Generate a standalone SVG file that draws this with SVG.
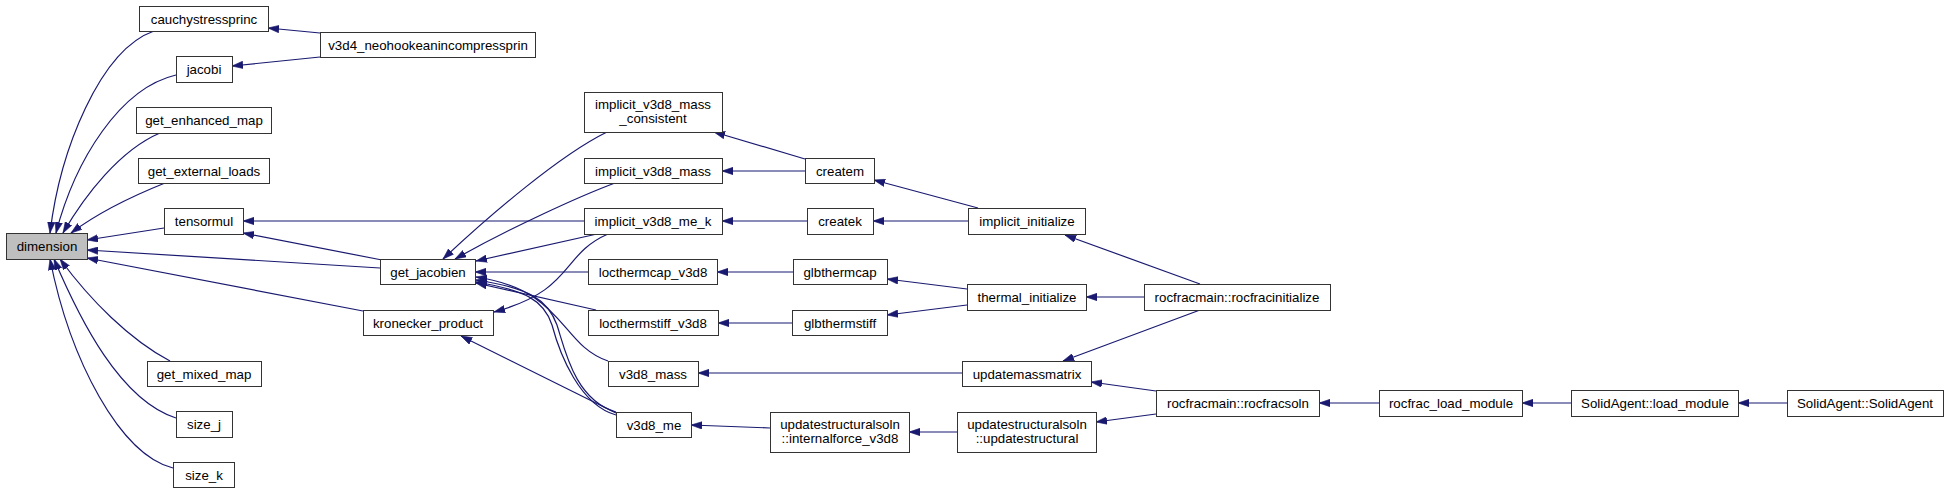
<svg xmlns="http://www.w3.org/2000/svg" width="1949" height="493" viewBox="0 0 1949 493">
<style>
.n rect{fill:#fff;stroke:#333;stroke-width:1}
.n.root rect{fill:#bfbfbf}
.n text{font-family:"Liberation Sans",Arial,Helvetica,sans-serif;font-size:13.3px;fill:#000;text-anchor:middle}
#edges path{fill:none;stroke:#191970;stroke-width:1.2;marker-end:url(#ah)}
</style>
<defs>
<marker id="ah" markerUnits="userSpaceOnUse" markerWidth="12" markerHeight="8" refX="11" refY="4" orient="auto" viewBox="0 0 12 8">
<path d="M0,0.3 L11,4 L0,7.7 z" fill="#191970" stroke="#191970" stroke-width="0.6"/>
</marker>
</defs>
<rect width="1949" height="493" fill="#fff"/>
<g id="edges">
<path d="M154,31 C100,50 60,150 50,233"/>
<path d="M176,75 C120,88 75,160 56,233"/>
<path d="M160,133 C120,150 85,195 63,233"/>
<path d="M165,183 C130,197 95,215 71,233"/>
<path d="M164,228 L87,240"/>
<path d="M380,268 L87,250"/>
<path d="M363,311 L87,258"/>
<path d="M170,361 C130,340 90,300 60,259"/>
<path d="M176,418 C120,400 80,320 54,259"/>
<path d="M173,468 C120,455 70,360 50,259"/>
<path d="M320,33 L268,28"/>
<path d="M320,57 L232,66"/>
<path d="M382,260 L243,233"/>
<path d="M584,221 L243,221"/>
<path d="M607,132 C560,155 490,215 443,259"/>
<path d="M615,183 C580,196 510,228 455,259"/>
<path d="M597,234 L476,261"/>
<path d="M588,272 L475,272"/>
<path d="M596,310 L476,283"/>
<path d="M608,361 C560,345 565,290 476,277"/>
<path d="M616,412 C575,400 565,350 557,325 C548,300 530,288 476,280"/>
<path d="M616,415 C580,405 560,355 552,325 C544,300 525,290 476,282"/>
<path d="M608,234 C560,255 575,290 494,312"/>
<path d="M616,413 L461,336"/>
<path d="M805,171 L722,171"/>
<path d="M805,159 L714,132"/>
<path d="M978,208 L874,180"/>
<path d="M968,221 L873,221"/>
<path d="M807,221 L722,221"/>
<path d="M793,272 L717,272"/>
<path d="M792,323 L718,323"/>
<path d="M967,289 L887,279"/>
<path d="M967,305 L887,315"/>
<path d="M1200,284 L1065,235"/>
<path d="M1144,297 L1086,297"/>
<path d="M1200,310 L1063,361"/>
<path d="M962,373 L698,373"/>
<path d="M1156,391 L1091,382"/>
<path d="M1156,414 L1096,422"/>
<path d="M957,432 L909,432"/>
<path d="M770,428 L691,425"/>
<path d="M1379,403 L1319,403"/>
<path d="M1571,403 L1522,403"/>
<path d="M1787,403 L1738,403"/>
</g>
<g id="dimension" class="n root"><rect x="6.5" y="233.5" width="81" height="26"/><text x="47" y="251">dimension</text></g>
<g id="cauchystressprinc" class="n"><rect x="139.5" y="6.5" width="129" height="25"/><text x="204" y="23.5">cauchystressprinc</text></g>
<g id="jacobi" class="n"><rect x="176.5" y="56.5" width="56" height="26"/><text x="204" y="74">jacobi</text></g>
<g id="get_enhanced_map" class="n"><rect x="136.5" y="107.5" width="135" height="26"/><text x="204" y="125">get_enhanced_map</text></g>
<g id="get_external_loads" class="n"><rect x="138.5" y="158.5" width="131" height="25"/><text x="204" y="175.5">get_external_loads</text></g>
<g id="tensormul" class="n"><rect x="164.5" y="208.5" width="79" height="26"/><text x="204" y="226">tensormul</text></g>
<g id="get_mixed_map" class="n"><rect x="147.5" y="361.5" width="114" height="25"/><text x="204" y="378.5">get_mixed_map</text></g>
<g id="size_j" class="n"><rect x="176.5" y="411.5" width="56" height="26"/><text x="204" y="429">size_j</text></g>
<g id="size_k" class="n"><rect x="173.5" y="462.5" width="61" height="25"/><text x="204" y="479.5">size_k</text></g>
<g id="v3d4_neohookeanincompressprin" class="n"><rect x="320.5" y="32.5" width="215" height="25"/><text x="428" y="49.5">v3d4_neohookeanincompressprin</text></g>
<g id="get_jacobien" class="n"><rect x="380.5" y="259.5" width="95" height="25"/><text x="428" y="276.5">get_jacobien</text></g>
<g id="kronecker_product" class="n"><rect x="363.5" y="310.5" width="130" height="25"/><text x="428" y="327.5">kronecker_product</text></g>
<g id="implicit_v3d8_mass_consistent" class="n"><rect x="584.5" y="92.5" width="138" height="40"/><text x="653" y="108.5">implicit_v3d8_mass</text><text x="653" y="122.5">_consistent</text></g>
<g id="implicit_v3d8_mass" class="n"><rect x="584.5" y="158.5" width="138" height="25"/><text x="653" y="175.5">implicit_v3d8_mass</text></g>
<g id="implicit_v3d8_me_k" class="n"><rect x="584.5" y="208.5" width="138" height="26"/><text x="653" y="226">implicit_v3d8_me_k</text></g>
<g id="locthermcap_v3d8" class="n"><rect x="588.5" y="259.5" width="129" height="25"/><text x="653" y="276.5">locthermcap_v3d8</text></g>
<g id="locthermstiff_v3d8" class="n"><rect x="588.5" y="310.5" width="130" height="25"/><text x="653" y="327.5">locthermstiff_v3d8</text></g>
<g id="v3d8_mass" class="n"><rect x="608.5" y="361.5" width="90" height="25"/><text x="653" y="378.5">v3d8_mass</text></g>
<g id="v3d8_me" class="n"><rect x="616.5" y="412.5" width="75" height="25"/><text x="654" y="429.5">v3d8_me</text></g>
<g id="createm" class="n"><rect x="805.5" y="158.5" width="69" height="25"/><text x="840" y="175.5">createm</text></g>
<g id="createk" class="n"><rect x="807.5" y="208.5" width="66" height="26"/><text x="840" y="226">createk</text></g>
<g id="glbthermcap" class="n"><rect x="793.5" y="259.5" width="94" height="25"/><text x="840" y="276.5">glbthermcap</text></g>
<g id="glbthermstiff" class="n"><rect x="792.5" y="310.5" width="95" height="25"/><text x="840" y="327.5">glbthermstiff</text></g>
<g id="internalforce_v3d8" class="n"><rect x="770.5" y="412.5" width="139" height="40"/><text x="840" y="428.5">updatestructuralsoln</text><text x="840" y="442.5">::internalforce_v3d8</text></g>
<g id="implicit_initialize" class="n"><rect x="968.5" y="208.5" width="117" height="26"/><text x="1027" y="226">implicit_initialize</text></g>
<g id="thermal_initialize" class="n"><rect x="967.5" y="284.5" width="119" height="26"/><text x="1027" y="302">thermal_initialize</text></g>
<g id="updatemassmatrix" class="n"><rect x="962.5" y="361.5" width="129" height="25"/><text x="1027" y="378.5">updatemassmatrix</text></g>
<g id="updatestructural" class="n"><rect x="957.5" y="412.5" width="139" height="40"/><text x="1027" y="428.5">updatestructuralsoln</text><text x="1027" y="442.5">::updatestructural</text></g>
<g id="rocfracinitialize" class="n"><rect x="1144.5" y="284.5" width="186" height="26"/><text x="1237" y="302">rocfracmain::rocfracinitialize</text></g>
<g id="rocfracsoln" class="n"><rect x="1156.5" y="390.5" width="163" height="26"/><text x="1238" y="408">rocfracmain::rocfracsoln</text></g>
<g id="rocfrac_load_module" class="n"><rect x="1379.5" y="390.5" width="143" height="26"/><text x="1451" y="408">rocfrac_load_module</text></g>
<g id="load_module" class="n"><rect x="1571.5" y="390.5" width="167" height="26"/><text x="1655" y="408">SolidAgent::load_module</text></g>
<g id="SolidAgent" class="n"><rect x="1787.5" y="390.5" width="156" height="26"/><text x="1865" y="408">SolidAgent::SolidAgent</text></g>
</svg>
